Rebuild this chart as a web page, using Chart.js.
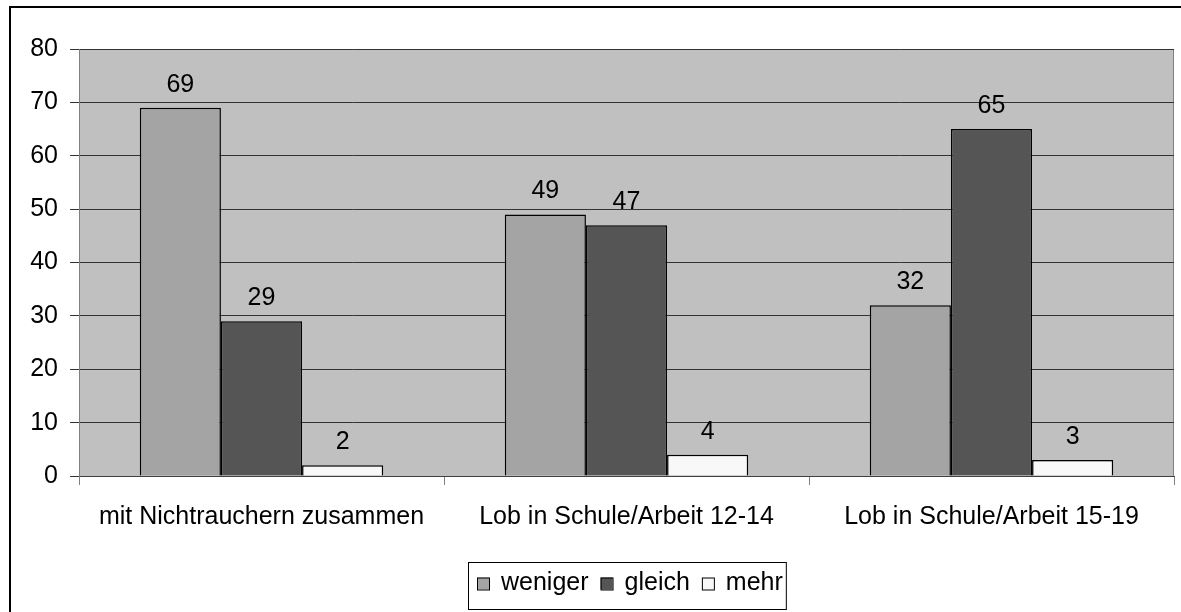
<!DOCTYPE html>
<html><head><meta charset="utf-8">
<script src="https://cdn.jsdelivr.net/npm/chart.js@4/dist/chart.umd.min.js"></script>
<style>
html,body{margin:0;padding:0;background:#fff;}
#wrap{position:relative;width:1181px;height:612px;overflow:hidden;}
#frame{position:absolute;left:9px;top:6px;width:1200px;height:700px;border:2px solid #000;box-sizing:border-box;}
canvas{position:absolute;left:0;top:0;}
</style></head>
<body><div id="wrap"><div id="frame"></div><canvas id="c" width="1181" height="612"></canvas></div>
<script>
const categories = ["mit Nichtrauchern zusammen", "Lob in Schule/Arbeit 12-14", "Lob in Schule/Arbeit 15-19"];
const seriesNames = ["weniger", "gleich", "mehr"];
const weniger = [69, 49, 32];
const gleich = [29, 47, 65];
const mehr = [2, 4, 3];
const yTicks = [0, 10, 20, 30, 40, 50, 60, 70, 80];

const FONT = "'Liberation Sans', Arial, sans-serif";
const FS = 25;
const colors = ["#A4A4A4", "#555555", "#F8F8F8"];

const bgPlugin = {
  id: 'bg',
  beforeDraw(chart) {
    const {ctx, chartArea: a} = chart;
    ctx.save();
    ctx.fillStyle = '#C0C0C0';
    ctx.fillRect(a.left, a.top, a.right - a.left, a.bottom - a.top);
    ctx.strokeStyle = '#808080';
    ctx.lineWidth = 1;
    ctx.beginPath();
    ctx.moveTo(a.left, a.top + 0.5); ctx.lineTo(a.right - 0.5, a.top + 0.5); ctx.lineTo(a.right - 0.5, a.bottom);
    ctx.stroke();
    ctx.restore();
  }
};

const labelPlugin = {
  id: 'vals',
  afterDatasetsDraw(chart) {
    const ctx = chart.ctx;
    ctx.save();
    ctx.font = FS + 'px ' + FONT;
    ctx.fillStyle = '#000';
    ctx.textAlign = 'center';
    ctx.textBaseline = 'alphabetic';
    chart.data.datasets.forEach((ds, i) => {
      chart.getDatasetMeta(i).data.forEach((bar, j) => {
        ctx.fillText(String(ds.data[j]), bar.x, bar.y - 16);
      });
    });
    ctx.restore();
  }
};

const legendPlugin = {
  id: 'lg',
  afterDraw(chart) {
    const ctx = chart.ctx;
    ctx.save();
    ctx.font = FS + 'px ' + FONT;
    const box = 12, gapBox = 12, gapItem = 12, padL = 9, padR = 3;
    const widths = chart.data.datasets.map(d => ctx.measureText(d.label).width);
    let total = padL + padR;
    widths.forEach((w, i) => { total += box + gapBox + w + (i < widths.length - 1 ? gapItem : 0); });
    const cx = (chart.chartArea.left + chart.chartArea.right) / 2;
    const left = Math.round(cx - total / 2), top = 562, h = 47;
    ctx.fillStyle = '#fff';
    ctx.fillRect(left, top, total, h);
    ctx.strokeStyle = '#000';
    ctx.lineWidth = 1;
    ctx.strokeRect(left + 0.5, top + 0.5, total, h);
    let x = left + padL;
    const cy = top + h / 2;
    ctx.textBaseline = 'middle';
    ctx.textAlign = 'left';
    chart.data.datasets.forEach((d, i) => {
      ctx.fillStyle = d.backgroundColor;
      ctx.fillRect(x, cy - box / 2 - 2, box, box);
      ctx.strokeStyle = '#000';
      ctx.strokeRect(x + 0.5, cy - box / 2 - 2 + 0.5, box, box);
      x += box + gapBox;
      ctx.fillStyle = '#000';
      ctx.fillText(d.label, x, cy - 2);
      x += widths[i] + gapItem;
    });
    ctx.restore();
  }
};

new Chart(document.getElementById('c'), {
  type: 'bar',
  data: {
    labels: categories,
    datasets: [
      {label: seriesNames[0], data: weniger, backgroundColor: colors[0]},
      {label: seriesNames[1], data: gleich, backgroundColor: colors[1]},
      {label: seriesNames[2], data: mehr, backgroundColor: colors[2]}
    ].map(d => Object.assign(d, {borderColor: '#000', borderWidth: 1.5, categoryPercentage: 0.667, barPercentage: 1}))
  },
  options: {
    responsive: false,
    animation: false,
    devicePixelRatio: 1,
    layout: {padding: {left: 0, right: 7, top: 49, bottom: 0}},
    plugins: {legend: {display: false}, tooltip: {enabled: false}},
    scales: {
      x: {
        grid: {display: true, offset: true, drawOnChartArea: false, drawTicks: true, tickLength: 9, color: '#808080', lineWidth: 1},
        border: {display: true, color: '#404040', width: 1},
        ticks: {color: '#000', font: {family: FONT, size: FS}, padding: 17, maxRotation: 0},
        afterFit(s) { s.height = 612 - 476; }
      },
      y: {
        min: 0, max: 80,
        afterBuildTicks(s) { s.ticks = yTicks.map(v => ({value: v})); },
        grid: {color: '#333333', lineWidth: 1, tickLength: 9, drawTicks: true},
        border: {display: true, color: '#808080', width: 1},
        ticks: {color: '#000', font: {family: FONT, size: FS}, padding: 12},
        afterFit(s) { s.width = 79; }
      }
    }
  },
  plugins: [bgPlugin, labelPlugin, legendPlugin]
});
</script></body></html>
